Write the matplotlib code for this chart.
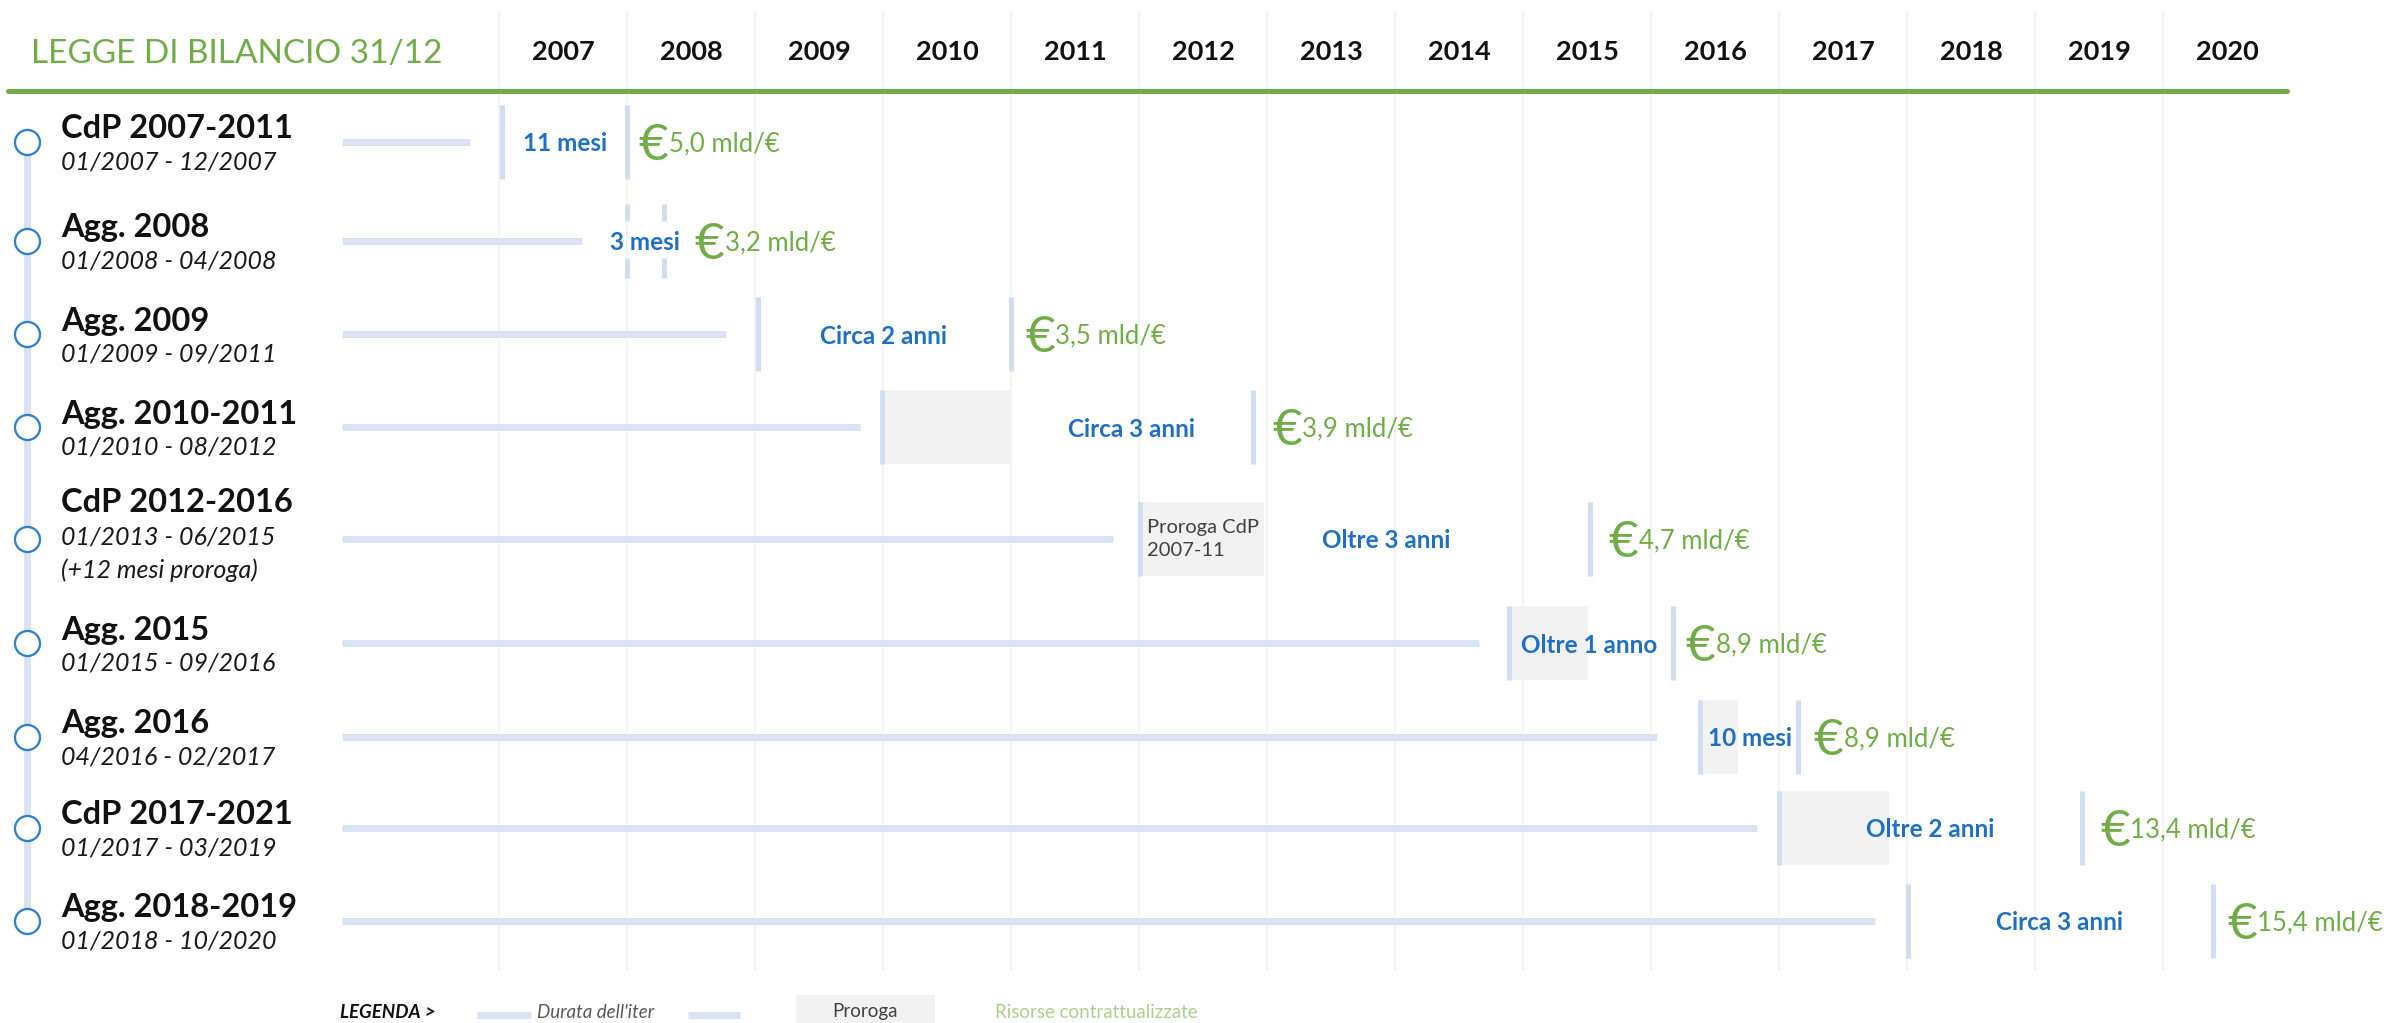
import matplotlib
matplotlib.use('Agg')
import matplotlib.pyplot as plt
from matplotlib.patches import Rectangle

plt.rcParams['font.family'] = ['Lato', 'DejaVu Sans']

# ---------------- data ----------------
years = list(range(2007, 2021))
title = 'LEGGE DI BILANCIO 31/12'
names = ['CdP 2007-2011', 'Agg. 2008', 'Agg. 2009', 'Agg. 2010-2011', 'CdP 2012-2016',
         'Agg. 2015', 'Agg. 2016', 'CdP 2017-2021', 'Agg. 2018-2019']
periods = ['01/2007 - 12/2007', '01/2008 - 04/2008', '01/2009 - 09/2011', '01/2010 - 08/2012',
           '01/2013 - 06/2015', '01/2015 - 09/2016', '04/2016 - 02/2017', '01/2017 - 03/2019',
           '01/2018 - 10/2020']
notes = ['', '', '', '', '(+12 mesi proroga)', '', '', '', '']
iter_start = 2005.77
iter_end = [2006.77, 2007.65, 2008.77, 2009.82, 2011.80, 2014.66, 2016.05, 2016.83, 2017.75]
open_at = [2007.02, 2008.00, 2009.02, 2009.99, 2012.01, 2014.89, 2016.38, 2017.00, 2018.01]
close_at = [2008.00, 2008.29, 2011.00, 2012.89, 2015.52, 2016.17, 2017.15, 2019.37, 2020.39]
proroga_from = [None, None, None, 2009.99, 2012.01, 2014.89, 2016.38, 2017.00, None]
proroga_to = [None, None, None, 2010.99, 2012.98, 2015.51, 2016.68, 2017.86, None]
proroga_note = ['', '', '', '', 'Proroga CdP\n2007-11', '', '', '', '']
durations = ['11 mesi', '3 mesi', 'Circa 2 anni', 'Circa 3 anni', 'Oltre 3 anni',
             'Oltre 1 anno', '10 mesi', 'Oltre 2 anni', 'Circa 3 anni']
resources = [5.0, 3.2, 3.5, 3.9, 4.7, 8.9, 8.9, 13.4, 15.4]
legend_items = ['LEGENDA >', "Durata dell'iter", 'Proroga', 'Risorse contrattualizzate']

# ---------------- layout ----------------
row_y = [141.7, 240.7, 334, 427.3, 539, 643.3, 736.7, 827.7, 921]
duration_x = [2007.52, 2008.14, 2010.00, 2011.94, 2013.93, 2015.52, 2016.77, 2018.18, 2019.19]
euro_x = [2008.09, 2008.53, 2011.11, 2013.04, 2015.67, 2016.27, 2017.27, 2019.51, 2020.50]
dashed_rows = [1]

GREEN = '#70ad47'
BLUE = '#1f70c4'
BAR = '#dae3f3'
MARK = '#d2ddf0'
BOX = '#f2f2f2'
PT = 0.72  # px -> pt at 100 dpi

fig = plt.figure(figsize=(23.94, 10.23), dpi=100)
ax = fig.add_axes([0, 0, 1, 1])
X0 = 2007 - 499 / 128
X1 = X0 + 2394 / 128
ax.set_xlim(X0, X1)
ax.set_ylim(1023, 0)
ax.axis('off')


def px(p):
    return X0 + p / 128


# grid
ax.vlines(years, 10, 970, color='#efefef', lw=1.6 * PT, zorder=0)

# header
ax.text(px(31), 54, title, fontsize=24, color=GREEN, ha='left', va='center')
for yr in years:
    ax.text(yr + 0.5, 52, str(yr), fontsize=19.5, fontweight='bold', color='#111111',
            ha='center', va='center')
ax.plot([px(8), px(2287)], [90.5, 90.5], color=GREEN, lw=5 * PT, solid_capstyle='round', zorder=3)

# left timeline
ax.plot([px(26.7), px(26.7)], [row_y[0], row_y[-1]], color=BAR, lw=7 * PT, zorder=1)
ax.scatter([px(26.7)] * len(row_y), row_y, s=(25 * PT) ** 2, facecolor='white',
           edgecolor='#2f7fd0', linewidth=2.3 * PT, zorder=4)

for i, y in enumerate(row_y):
    # names / periods
    if notes[i]:
        ax.text(px(61), y - 37, names[i], fontsize=23.5, fontweight='bold', color='#111111',
                ha='left', va='center')
        ax.text(px(61), y - 2, periods[i], fontsize=18, style='italic', color='#1a1a1a',
                ha='left', va='center')
        ax.text(px(61), y + 31, notes[i], fontsize=18, style='italic', color='#1a1a1a',
                ha='left', va='center')
    else:
        ax.text(px(61), y - 13, names[i], fontsize=23.5, fontweight='bold', color='#111111',
                ha='left', va='center')
        ax.text(px(61), y + 20, periods[i], fontsize=18, style='italic', color='#1a1a1a',
                ha='left', va='center')

    # iter bar
    ax.plot([iter_start, iter_end[i]], [y, y], color=BAR, lw=7 * PT, solid_capstyle='butt', zorder=2)

    # proroga box
    if proroga_from[i] is not None:
        ax.add_patch(Rectangle((proroga_from[i], y - 37), proroga_to[i] - proroga_from[i], 74,
                               facecolor=BOX, edgecolor='none', zorder=1))
    if proroga_note[i]:
        ax.text(proroga_from[i] + 7 / 128, y, proroga_note[i], fontsize=14.5, color='#404040',
                ha='left', va='center', linespacing=1.4, zorder=5)

    # open / close markers
    if i in dashed_rows:
        for xv in (open_at[i], close_at[i]):
            ax.plot([xv, xv], [y - 37, y - 20], color=MARK, lw=5 * PT, solid_capstyle='butt', zorder=3)
            ax.plot([xv, xv], [y + 17, y + 37], color=MARK, lw=5 * PT, solid_capstyle='butt', zorder=3)
    else:
        ax.vlines([open_at[i], close_at[i]], y - 37, y + 37, color=MARK, lw=5 * PT, zorder=3)

    # duration label
    ax.text(duration_x[i], y + 2, durations[i], fontsize=17.5, fontweight='bold', color=BLUE,
            ha='center', va='center', zorder=6)

    # resources
    ax.text(euro_x[i], y + 4, '€', fontsize=37, fontweight='normal', color=GREEN,
            ha='left', va='center', zorder=6)
    ax.text(euro_x[i] + 30 / 128, y + 2, f"{resources[i]:.1f}".replace('.', ',') + ' mld/€',
            fontsize=18.5, color=GREEN, ha='left', va='center', zorder=6)

# legend
ly = 1012
ax.text(px(340), ly, legend_items[0], fontsize=13.5, fontweight='bold', style='italic',
        color='#111111', ha='left', va='center')
ax.plot([px(477), px(531)], [ly + 3, ly + 3], color=BAR, lw=7 * PT, solid_capstyle='butt')
ax.text(px(537), ly, legend_items[1], fontsize=13.5, style='italic', color='#595959',
        ha='left', va='center')
ax.plot([px(688), px(740)], [ly + 3, ly + 3], color=BAR, lw=7 * PT, solid_capstyle='butt')
ax.add_patch(Rectangle((px(796), 995), 139 / 128, 30, facecolor=BOX, edgecolor='none'))
ax.text(px(865), ly, legend_items[2], fontsize=13.5, color='#404040', ha='center', va='center')
ax.text(px(995), ly, legend_items[3], fontsize=13.5, color='#a9d18e', ha='left', va='center')

fig.savefig('out.png', dpi=100)
